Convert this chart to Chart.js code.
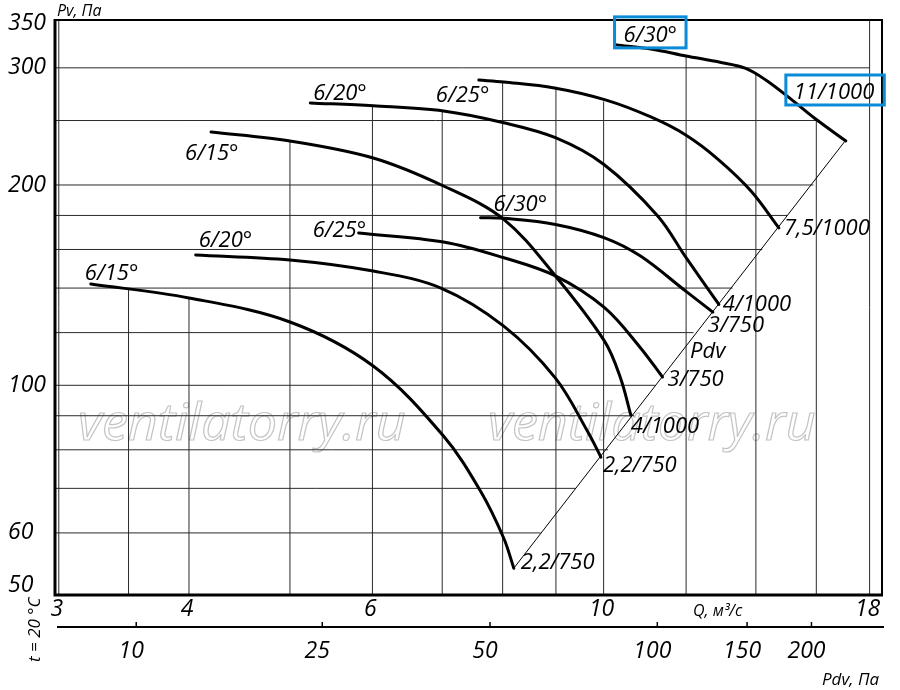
<!DOCTYPE html>
<html>
<head>
<meta charset="utf-8">
<script src="https://cdn.jsdelivr.net/npm/chart.js@4.4.0/dist/chart.umd.min.js"></script>
<style>
  body { margin: 0; background: #fff; }
  canvas { display: block; }
</style>
</head>
<body>
<canvas id="fanChart" width="900" height="690"></canvas>
<script>
// axis ticks
const qTicks = [3, 4, 6, 10, 18];
const pvTicks = [50, 60, 100, 200, 300, 350];
const pdvTicks = [10, 25, 50, 100, 150, 200];
const pdvAtQ = [3.56, 5.37, 7.78, 11.26, 13.73, 15.83];

// grid lines (vertical ones stop at the top curve, horizontal ones at the Pdv line)
const vGridQ = [3, 3.5, 4, 5, 6, 7, 8, 9, 10, 12, 14, 16, 18];
const vGridTop = [354, 140, 135, 233, 262, 258, 286, 281, 267, 313, 295, 250, 354];
const hGridPv = [60, 70, 80, 90, 100, 120, 140, 160, 180, 200, 250, 300];
const hGridEnd = [8.7, 9.4, 10.1, 10.7, 11.2, 12.2, 13.3, 14.2, 15.0, 15.9, 16, 18];

// curves, Q in m3/s and Pv in Pa
const q15a = [3.22, 4.0, 5.0, 6.01, 7.02, 7.62, 8.02, 8.2];
const pv15a = [142, 135.3, 124.5, 106.9, 83.9, 69.3, 58.9, 53.1];
const q20a = [4.06, 5.0, 6.01, 6.98, 8.02, 8.99, 9.65, 9.94];
const pv20a = [157, 154.3, 148.5, 140, 122.7, 102.5, 85.3, 78];
const q25a = [5.82, 7.02, 8.02, 8.99, 10.02, 10.85, 11.39];
const pv25a = [169.4, 164.2, 155.5, 146, 130.8, 113.8, 102.9];
const q30a = [7.62, 8.02, 8.99, 10.02, 10.85, 11.99, 12.73];
const pv30a = [178.6, 178.2, 174.5, 166.6, 156.4, 138.5, 128.8];
const q15b = [4.2, 5.0, 6.01, 7.02, 8.02, 8.99, 10.02, 10.38, 10.62];
const pv15b = [240.3, 232.9, 219.6, 199.3, 177.6, 146, 116.5, 102.6, 90.2];
const q20b = [5.23, 6.01, 7.02, 8.02, 8.99, 10.0, 11.27, 11.99, 12.9];
const pv20b = [265.7, 263, 258.4, 248.1, 235.6, 214.9, 179.7, 155.8, 132.3];
const q25b = [7.59, 8.02, 8.97, 10.04, 11.10, 11.99, 12.87, 13.85, 14.73];
const pv25b = [287.6, 285.6, 279.8, 268.5, 253.1, 237.8, 218.8, 195.9, 172.4];
const q30b = [10.29, 11.10, 12.0, 12.96, 13.69, 14.31, 15.12, 15.93, 17.08];
const pv30b = [324.8, 320.3, 312.6, 305.6, 299.4, 287.6, 269.4, 252.2, 232.9];

// dynamic pressure line through the curve ends
const pdvLineQ = [8.2, 17.08];
const pdvLinePv = [53.1, 233.7];

const Q_MIN = 2.975, Q_MAX = 18.5, PV_MIN = 48.4, PV_MAX = 354;

const curves = [
  { q: q15a, pv: pv15a, name: "6/15°", motor: "2,2/750", nx: -6, ny: -4, mx: 7, my: 1 },
  { q: q20a, pv: pv20a, name: "6/20°", motor: "2,2/750", nx: 3, ny: -8, mx: 2, my: 15 },
  { q: q25a, pv: pv25a, name: "6/25°", motor: "3/750", nx: -46, ny: 4, mx: 5, my: 9 },
  { q: q30a, pv: pv30a, name: "6/30°", motor: "3/750", nx: 13, ny: -7, mx: -5, my: 20 },
  { q: q15b, pv: pv15b, name: "6/15°", motor: "4/1000", nx: -26, ny: 28, mx: 0, my: 18 },
  { q: q20b, pv: pv20b, name: "6/20°", motor: "4/1000", nx: 3, ny: -3, mx: 4, my: 7 },
  { q: q25b, pv: pv25b, name: "6/25°", motor: "7,5/1000", nx: -43, ny: 22, mx: 5, my: 7 },
  { q: q30b, pv: pv30b, name: "6/30°", motor: "11/1000", nx: 7, ny: -3, mx: -52, my: -42, boxed: true }
];

function toPoints(qs, pvs) {
  return qs.map((q, i) => ({ x: q, y: pvs[i] }));
}

const datasets = [];
curves.forEach(c => {
  datasets.push({
    data: toPoints(c.q, c.pv),
    borderColor: "#000",
    borderWidth: 3,
    borderCapStyle: "round",
    tension: 0.35,
    order: 1
  });
});
datasets.push({
  data: toPoints(pdvLineQ, pdvLinePv),
  borderColor: "#000",
  borderWidth: 1,
  order: 2
});
vGridQ.forEach((q, i) => {
  datasets.push({
    data: [{ x: q, y: PV_MIN }, { x: q, y: vGridTop[i] }],
    borderColor: "#2a2a2a",
    borderWidth: 1,
    order: 3
  });
});
hGridPv.forEach((p, i) => {
  datasets.push({
    data: [{ x: Q_MIN, y: p }, { x: hGridEnd[i], y: p }],
    borderColor: "#2a2a2a",
    borderWidth: 1,
    order: 3
  });
});

const FONT = "'Open Sans', 'Noto Sans', sans-serif";

const decor = {
  id: "decor",
  beforeDatasetsDraw(chart) {
    const ctx = chart.ctx;
    ctx.save();
    ctx.font = "italic 52px " + FONT;
    ctx.strokeStyle = "#c4c4c4";
    ctx.lineWidth = 1.2;
    ctx.strokeText("ventilatorry.ru", 78, 440, 332);
    ctx.strokeText("ventilatorry.ru", 488, 440, 332);
    ctx.restore();
  },
  afterDraw(chart) {
    const ctx = chart.ctx;
    const ca = chart.chartArea;
    const xs = chart.scales.x;
    const ys = chart.scales.y;
    const x2 = chart.scales.x2;
    ctx.save();

    // frame
    ctx.strokeStyle = "#000";
    ctx.lineWidth = 2;
    ctx.beginPath();
    ctx.moveTo(ca.left, ca.top);
    ctx.lineTo(ca.right, ca.top);
    ctx.lineTo(ca.right, ca.bottom);
    ctx.stroke();
    ctx.lineWidth = 3;
    ctx.beginPath();
    ctx.moveTo(ca.left, ca.top - 1);
    ctx.lineTo(ca.left, ca.bottom);
    ctx.lineTo(ca.right + 1, ca.bottom);
    ctx.stroke();

    // Pdv scale
    ctx.lineWidth = 2;
    ctx.beginPath();
    ctx.moveTo(ca.left + 2, x2.top);
    ctx.lineTo(ca.right + 2, x2.top);
    ctx.stroke();
    ctx.lineWidth = 1.5;
    pdvAtQ.forEach(v => {
      const px = x2.getPixelForValue(v);
      ctx.beginPath();
      ctx.moveTo(px, x2.top);
      ctx.lineTo(px, x2.top - 5);
      ctx.stroke();
    });

    // curve and motor labels
    ctx.fillStyle = "#000";
    ctx.font = "italic 22px " + FONT;
    ctx.textBaseline = "alphabetic";
    ctx.textAlign = "left";
    curves.forEach(c => {
      const sx = xs.getPixelForValue(c.q[0]) + c.nx;
      const sy = ys.getPixelForValue(c.pv[0]) + c.ny;
      const n = c.q.length - 1;
      const ex = xs.getPixelForValue(c.q[n]) + c.mx;
      const ey = ys.getPixelForValue(c.pv[n]) + c.my;
      ctx.fillText(c.name, sx, sy);
      ctx.fillText(c.motor, ex, ey);
      if (c.boxed) {
        ctx.strokeStyle = "#0a8bd8";
        ctx.lineWidth = 3;
        const w1 = ctx.measureText(c.name).width;
        ctx.strokeRect(sx - 9, sy - 25, w1 + 18, 31);
        const w2 = ctx.measureText(c.motor).width;
        ctx.strokeRect(ex - 8, ey - 24, w2 + 18, 30);
      }
    });
    ctx.fillText("Pdv", 690, 358);

    // axis captions
    ctx.font = "italic 16px " + FONT;
    ctx.fillText("Pv, Па", 57, 16);
    ctx.fillText("Q, м³/с", 693, 616);
    ctx.font = "italic 17px " + FONT;
    ctx.fillText("Pdv, Па", 822, 685);
    ctx.save();
    ctx.translate(40, 662);
    ctx.rotate(-Math.PI / 2);
    ctx.fillText("t = 20 °C", 0, 0);
    ctx.restore();

    ctx.restore();
  }
};

const tickFont = { size: 23, style: "italic", family: FONT };

new Chart(document.getElementById("fanChart"), {
  type: "scatter",
  data: { datasets: datasets },
  options: {
    responsive: false,
    animation: false,
    devicePixelRatio: 1,
    showLine: true,
    elements: { point: { radius: 0 } },
    layout: { padding: { top: 20, right: 18, left: 8, bottom: 20 } },
    plugins: { legend: { display: false }, tooltip: { enabled: false } },
    scales: {
      x: {
        type: "logarithmic",
        min: Q_MIN,
        max: Q_MAX,
        position: "bottom",
        afterBuildTicks: s => { s.ticks = qTicks.map(v => ({ value: v })); },
        afterFit: s => { s.height = 32; },
        grid: { display: false, drawTicks: false },
        border: { display: false },
        ticks: {
          autoSkip: false, maxRotation: 0, padding: 1, labelOffset: -2,
          color: "#000", font: tickFont,
          callback: v => String(v)
        }
      },
      x2: {
        type: "logarithmic",
        min: Q_MIN,
        max: Q_MAX,
        position: "bottom",
        afterBuildTicks: s => { s.ticks = pdvAtQ.map(v => ({ value: v })); },
        afterFit: s => { s.height = 43; },
        grid: { display: false, drawTicks: false },
        border: { display: false },
        ticks: {
          autoSkip: false, maxRotation: 0, padding: 11, labelOffset: -5,
          color: "#000", font: tickFont,
          callback: (v, i) => String(pdvTicks[i])
        }
      },
      y: {
        type: "logarithmic",
        min: PV_MIN,
        max: PV_MAX,
        afterBuildTicks: s => { s.ticks = pvTicks.map(v => ({ value: v })); },
        afterFit: s => { s.width = 47; },
        grid: { display: false, drawTicks: false },
        border: { display: false },
        ticks: {
          crossAlign: "far", color: "#000", font: tickFont,
          callback: v => String(v)
        }
      }
    }
  },
  plugins: [decor]
});
</script>
</body>
</html>
